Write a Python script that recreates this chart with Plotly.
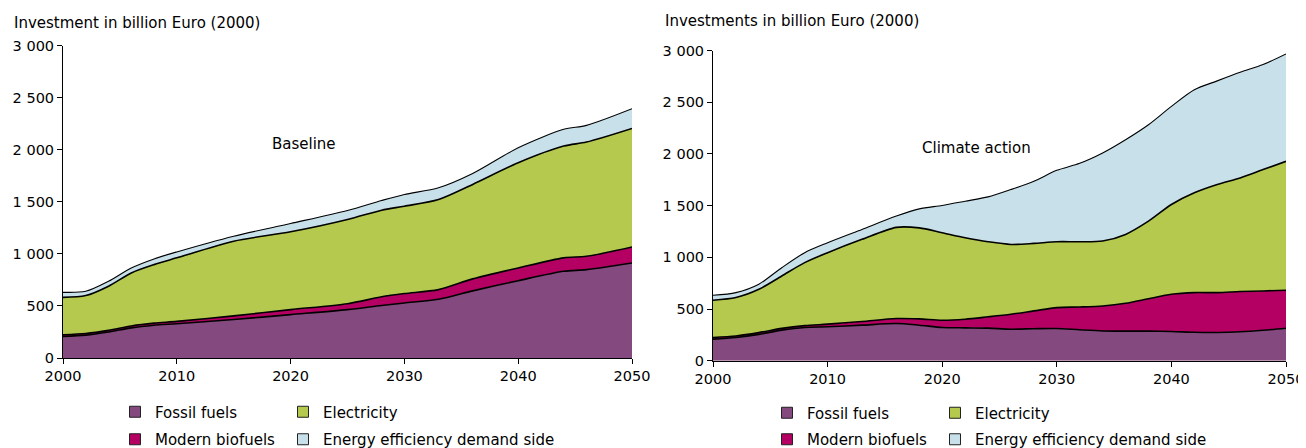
import plotly.graph_objects as go

# ---------------- data ----------------
years_base = [2000, 2002, 2004, 2006, 2008, 2010, 2015, 2020, 2025, 2028,
              2030, 2033, 2036, 2040, 2044, 2046, 2050]
base_fossil = [208, 220, 250, 290, 315, 330, 370, 417, 465, 505,
               529, 565, 645, 743, 833, 849, 913]
base_biofuels = [16, 16, 16, 18, 20, 22, 35, 48, 57, 83,
                 90, 92, 115, 122, 129, 128, 154]
base_electricity = [359, 364, 424, 509, 562, 610, 717, 747, 808, 832,
                    839, 865, 907, 1010, 1073, 1097, 1138]
base_efficiency = [48, 41, 47, 48, 55, 57, 48, 80, 87, 93,
                   113, 113, 105, 144, 161, 160, 189]

years_clim = [2000, 2002, 2004, 2006, 2008, 2010, 2013, 2016, 2018, 2020,
              2022, 2024, 2026, 2028, 2030, 2032, 2034, 2036, 2038, 2040,
              2042, 2044, 2046, 2048, 2050]
clim_fossil = [209, 225, 255, 296, 322, 328, 344, 360, 344, 322,
               318, 315, 305, 310, 312, 299, 288, 286, 286, 283,
               275, 273, 280, 295, 315]
clim_biofuels = [16, 15, 17, 17, 18, 26, 36, 48, 61, 70,
                 84, 110, 145, 172, 202, 221, 242, 270, 314, 360,
                 384, 386, 389, 380, 367]
clim_electricity = [360, 371, 419, 507, 609, 691, 794, 882, 880, 846,
                    788, 726, 675, 653, 637, 631, 628, 666, 750, 868,
                    965, 1045, 1099, 1174, 1247]
clim_efficiency = [48, 48, 49, 80, 96, 96, 96, 109, 184, 264,
                   353, 434, 531, 601, 691, 759, 852, 916, 933, 949,
                   997, 1003, 1022, 1016, 1039]

series_names = ["Fossil fuels", "Modern biofuels", "Electricity",
                "Energy efficiency demand side"]
series_colors = ["#844A7F", "#B40062", "#B5C94E", "#C8E0EA"]

y_ticks = [0, 500, 1000, 1500, 2000, 2500, 3000]
y_ticktext = ["0", "500", "1 000", "1 500", "2 000", "2 500", "3 000"]
x_ticks = [2000, 2010, 2020, 2030, 2040, 2050]

left_title = "Investment in billion Euro (2000)"
right_title = "Investments in billion Euro (2000)"
left_label = "Baseline"
right_label = "Climate action"

# ---------------- figure ----------------
W, H = 1306, 448
OFF = 8          # page body margin of the html page
BOT = 80         # bottom margin (room for tick labels and legends)
PH = H - BOT     # plot area height in px
FONT = "DejaVu Sans"
FS = 15
TFS = 14.5
line_widths = [1.6, 1.6, 1.6, 1.1]
fig = go.Figure()

def px_x(p):
    return (p - OFF) / W

def px_y(p):
    return (PH - (p - OFF)) / PH

def add_stack(years, values_list, xa, ya, group):
    for name, vals, col, lw in zip(series_names, values_list, series_colors, line_widths):
        fig.add_trace(go.Scatter(
            x=years, y=vals, xaxis=xa, yaxis=ya, stackgroup=group,
            mode="lines", line=dict(color="black", width=lw, shape="spline", smoothing=0.8),
            fillcolor=col, name=name, showlegend=False, hoverinfo="skip"))

add_stack(years_base, [base_fossil, base_biofuels, base_electricity, base_efficiency],
          "x", "y", "base")
add_stack(years_clim, [clim_fossil, clim_biofuels, clim_electricity, clim_efficiency],
          "x2", "y2", "clim")

# legend entries: one legend box per entry, laid out 2 x 2 under each chart
legend_slots = {
    "Fossil fuels": (0, 0),
    "Electricity": (1, 0),
    "Modern biofuels": (0, 1),
    "Energy efficiency demand side": (1, 1),
}
chart_leg_x = [115, 767]
chart_leg_y = [[412, 440], [413, 441]]
col_step = 168
leg_idx = 0
legend_layouts = {}
for side in (0, 1):
    for name in ["Fossil fuels", "Electricity", "Modern biofuels",
                 "Energy efficiency demand side"]:
        leg_idx += 1
        lid = "legend" if leg_idx == 1 else "legend%d" % leg_idx
        col = series_colors[series_names.index(name)]
        c, r = legend_slots[name]
        fig.add_trace(go.Scatter(
            x=[None], y=[None], mode="markers", name=name,
            xaxis="x" if side == 0 else "x2", yaxis="y" if side == 0 else "y2",
            marker=dict(symbol="square", size=11, color=col,
                        line=dict(color="#222222", width=1)),
            legend=lid, showlegend=True, hoverinfo="skip"))
        legend_layouts[lid] = dict(
            x=px_x(chart_leg_x[side] + c * col_step), y=px_y(chart_leg_y[side][r]),
            xanchor="left", yanchor="middle", orientation="h",
            font=dict(family=FONT, size=FS, color="black"),
            bgcolor="rgba(0,0,0,0)", borderwidth=0,
            itemclick=False, itemdoubleclick=False)

axis_common = dict(showline=True, linecolor="black", linewidth=1, ticks="outside",
                   ticklen=5, tickcolor="black", showgrid=False, zeroline=False,
                   automargin=False,
                   tickfont=dict(family=FONT, size=TFS, color="black"))

fig.update_layout(
    width=W, height=H, autosize=False,
    margin=dict(l=0, r=0, t=0, b=BOT, pad=0),
    paper_bgcolor="white", plot_bgcolor="white",
    font=dict(family=FONT, size=FS, color="black"),
    xaxis=dict(domain=[px_x(63), px_x(632)], range=[2000, 2050], tickvals=x_ticks,
               anchor="y", **axis_common),
    yaxis=dict(domain=[px_y(359), px_y(45.7)], range=[0, 3000], tickvals=y_ticks,
               ticktext=y_ticktext, anchor="x", **axis_common),
    xaxis2=dict(domain=[px_x(713), px_x(1286)], range=[2000, 2050], tickvals=x_ticks,
                anchor="y2", **axis_common),
    yaxis2=dict(domain=[px_y(361.7), px_y(50.7)], range=[0, 3000], tickvals=y_ticks,
                ticktext=y_ticktext, anchor="x2", **axis_common),
    **legend_layouts,
)

fig.add_annotation(text=left_title, xref="paper", yref="paper", x=px_x(12), y=px_y(23),
                   xanchor="left", yanchor="middle", showarrow=False,
                   font=dict(family=FONT, size=FS, color="black"))
fig.add_annotation(text=right_title, xref="paper", yref="paper", x=px_x(663), y=px_y(21),
                   xanchor="left", yanchor="middle", showarrow=False,
                   font=dict(family=FONT, size=FS, color="black"))
fig.add_annotation(text=left_label, xref="x", yref="y", x=2021.2, y=2059,
                   showarrow=False, font=dict(family=FONT, size=FS, color="black"))
fig.add_annotation(text=right_label, xref="x2", yref="y2", x=2023.0, y=2061,
                   showarrow=False, font=dict(family=FONT, size=FS, color="black"))

fig.write_html("out.html")
